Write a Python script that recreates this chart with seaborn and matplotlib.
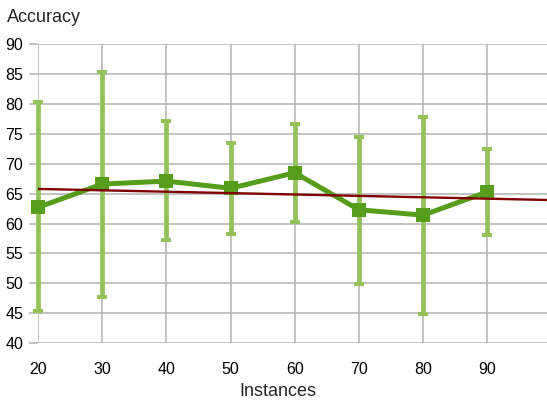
import numpy as np
import pandas as pd
import matplotlib.pyplot as plt
import seaborn as sns

sns.set_style('white')
plt.rcParams['font.family'] = ['Liberation Sans', 'DejaVu Sans']

# data
instances = [20, 30, 40, 50, 60, 70, 80, 90]
accuracy = [62.7, 66.6, 67.1, 65.9, 68.5, 62.3, 61.4, 65.3]
acc_low = [45.4, 47.7, 57.3, 58.3, 60.3, 49.9, 44.9, 58.1]
acc_high = [80.3, 85.4, 77.1, 73.5, 76.6, 74.5, 77.9, 72.4]
x_ticks = [20, 30, 40, 50, 60, 70, 80, 90]
y_ticks = [40, 45, 50, 55, 60, 65, 70, 75, 80, 85, 90]

df = pd.DataFrame({'instances': instances, 'accuracy': accuracy,
                   'low': acc_low, 'high': acc_high})

W, H = 547, 401
fig = plt.figure(figsize=(W / 100, H / 100), dpi=100)
ax = fig.add_axes([38 / W, 1 - 343 / H, 1 - 38 / W, (343 - 44.3) / H])
ax.set_xlim(20, 99.3)
ax.set_ylim(40, 90)

# error bars (asymmetric)
yerr = [df['accuracy'] - df['low'], df['high'] - df['accuracy']]
eb = ax.errorbar(df['instances'], df['accuracy'], yerr=yerr, fmt='none',
                 ecolor='#93c25b', elinewidth=3.4, capsize=3.7, capthick=2.9, zorder=2)
for art in eb.lines[1] + eb.lines[2]:
    art.set_clip_on(False)
for art in eb.lines[2]:
    art.set_clip_on(False)

# mean line
sns.lineplot(data=df, x='instances', y='accuracy', ax=ax, color='#579d1c', lw=3.6,
             marker='s', markersize=10, markeredgewidth=0, zorder=3, clip_on=False)

# linear trend
sns.regplot(data=df, x='instances', y='accuracy', ax=ax, scatter=False, ci=None,
            truncate=False, color='#800000', line_kws={'lw': 1.7, 'zorder': 4})

ax.set_xlim(20, 99.3)
ax.set_ylim(40, 90)
ax.set_xticks(x_ticks)
ax.set_yticks(y_ticks)
ax.grid(True, color='#b3b3b3', lw=1.1)
ax.set_axisbelow(True)
for s in ax.spines.values():
    s.set_visible(False)
ax.tick_params(axis='x', length=0, pad=13.5, labelsize=11.5, colors='#000000')
ax.tick_params(axis='y', length=6.5, width=1.1, color='#b3b3b3', pad=4.3,
               labelsize=11.5, labelcolor='#000000', left=True)
ax.set_xlabel('')
ax.set_ylabel('')

fig.text(7 / W, 1 - 22 / H, 'Accuracy', fontsize=13, va='baseline', ha='left')
fig.text(277.5 / W, 1 - 396.5 / H, 'Instances', fontsize=13, va='baseline', ha='center')

plt.savefig('out.png', dpi=100)
